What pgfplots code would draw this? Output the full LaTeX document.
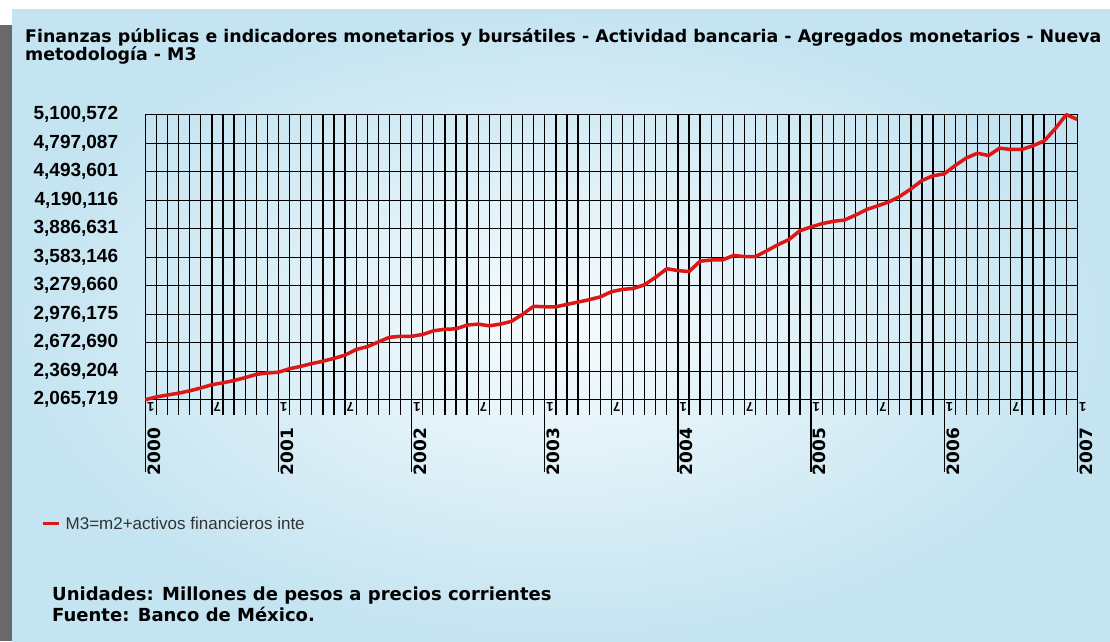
\documentclass[border=0pt]{standalone}
\usepackage{pgfplots}
\pgfplotsset{compat=1.18}
\usepackage{fontspec}
\setmainfont{Liberation Sans}
\newfontfamily\dvs{DejaVu Sans}
\definecolor{linered}{RGB}{222,22,22}
\definecolor{bgblue}{RGB}{196,228,241}
\definecolor{bglight}{RGB}{246,251,253}
\definecolor{barg}{RGB}{105,105,108}
\begin{document}
\begin{tikzpicture}[x=1pt,y=1pt]
\useasboundingbox (0,0) rectangle (1110,641);
\clip (0,0) rectangle (1110,641);
\fill[white] (0,0) rectangle (1110,641);
\shade[inner color=bglight, outer color=bgblue] (12,0) rectangle (1110,631);
\fill[barg] (0,0) rectangle (12,616);
\node[anchor=base west, inner sep=0pt, font=\fontsize{17.4}{20}\selectfont\dvs\bfseries] at (25,598)
  {Finanzas públicas e indicadores monetarios y bursátiles - Actividad bancaria - Agregados monetarios - Nueva};
\node[anchor=base west, inner sep=0pt, font=\fontsize{17.4}{20}\selectfont\dvs\bfseries] at (25,580)
  {metodología - M3};
\begin{axis}[
  at={(131,257)}, anchor=south west,
  scale only axis, width=932pt, height=285pt,
  clip=false,
  xmin=0, xmax=84, ymin=2065719, ymax=5100572,
  scaled y ticks=false,
  axis line style={black, line width=1.4pt},
  xtick pos=bottom, ytick pos=left,
  xtick={0,12,24,36,48,60,72,84},
  xticklabels={2000,2001,2002,2003,2004,2005,2006,2007},
  minor xtick={0,1,...,84},
  extra x ticks={0,6,12,18,24,30,36,42,48,54,60,66,72,78,84},
  extra x tick labels={1,7,1,7,1,7,1,7,1,7,1,7,1,7,1},
  extra x tick style={major tick length=15pt, xticklabel shift=-2pt,
    xticklabel style={font=\fontsize{13}{13}\selectfont\bfseries, rotate=90, anchor=north east, inner sep=1.5pt}},
  xmajorgrids, xminorgrids, ymajorgrids,
  grid style={black, line width=1.3pt},
  minor grid style={black, line width=1.3pt},
  tick align=outside,
  major tick length=72pt, minor tick length=15pt,
  x tick style={black, line width=1.3pt},
  xticklabel shift=-46pt,
  ytick={2065719,2369204,2672690,2976175,3279660,3583146,3886631,4190116,4493601,4797087,5100572},
  yticklabels={{2,065,719},{2,369,204},{2,672,690},{2,976,175},{3,279,660},{3,583,146},{3,886,631},{4,190,116},{4,493,601},{4,797,087},{5,100,572}},
  y tick style={draw=none},
  yticklabel shift=-45pt,
  yticklabel style={font=\fontsize{19}{19}\selectfont\bfseries, anchor=east, inner sep=0pt},
  xticklabel style={font=\fontsize{17}{17}\selectfont\dvs\bfseries, rotate=90, anchor=north east, inner sep=2pt},
  /pgf/number format/assume math mode=true,
  legend style={at={(-0.112,-0.435)}, anchor=west, draw=none, fill=none, inner sep=0pt,
    font=\fontsize{17}{19}\selectfont, text=black!80},
  legend image code/.code={\draw[linered, line width=3.5pt] (0pt,0pt) -- (16pt,0pt);},
]
\addplot[linered, line width=3.5pt, line join=round] coordinates {
(0,2065719) (1,2095000) (2,2115000) (3,2135000) (4,2160000) (5,2190000)
(6,2225000) (7,2245000) (8,2270000) (9,2300000) (10,2335000) (11,2350000)
(12,2358000) (13,2395000) (14,2420000) (15,2450000) (16,2475000) (17,2505000)
(18,2540000) (19,2600000) (20,2630000) (21,2680000) (22,2730000) (23,2740000)
(24,2740000) (25,2760000) (26,2800000) (27,2815000) (28,2820000) (29,2860000)
(30,2870000) (31,2852000) (32,2870000) (33,2900000) (34,2975000) (35,3060000)
(36,3055000) (37,3055000) (38,3080000) (39,3105000) (40,3130000) (41,3160000)
(42,3215000) (43,3240000) (44,3250000) (45,3290000) (46,3370000) (47,3460000)
(48,3440000) (49,3430000) (50,3540000) (51,3553000) (52,3553000) (53,3600000)
(54,3590000) (55,3590000) (56,3650000) (57,3715000) (58,3770000) (59,3865000)
(60,3905000) (61,3940000) (62,3965000) (63,3978000) (64,4030000) (65,4090000)
(66,4130000) (67,4170000) (68,4230000) (69,4310000) (70,4400000) (71,4450000)
(72,4470000) (73,4560000) (74,4640000) (75,4690000) (76,4665000) (77,4744000)
(78,4730000) (79,4730000) (80,4770000) (81,4820000) (82,4950000) (83,5100572)
(84,5050000)
};
\addlegendentry{\hspace{3pt}M3=m2+activos financieros inte}
\end{axis}
\node[anchor=base west, inner sep=0pt, font=\fontsize{18}{20}\selectfont\dvs\bfseries] at (52,41)
  {Unidades: Millones de pesos a precios corrientes};
\node[anchor=base west, inner sep=0pt, font=\fontsize{18}{20}\selectfont\dvs\bfseries] at (52,20)
  {Fuente: Banco de México.};
\end{tikzpicture}
\end{document}
